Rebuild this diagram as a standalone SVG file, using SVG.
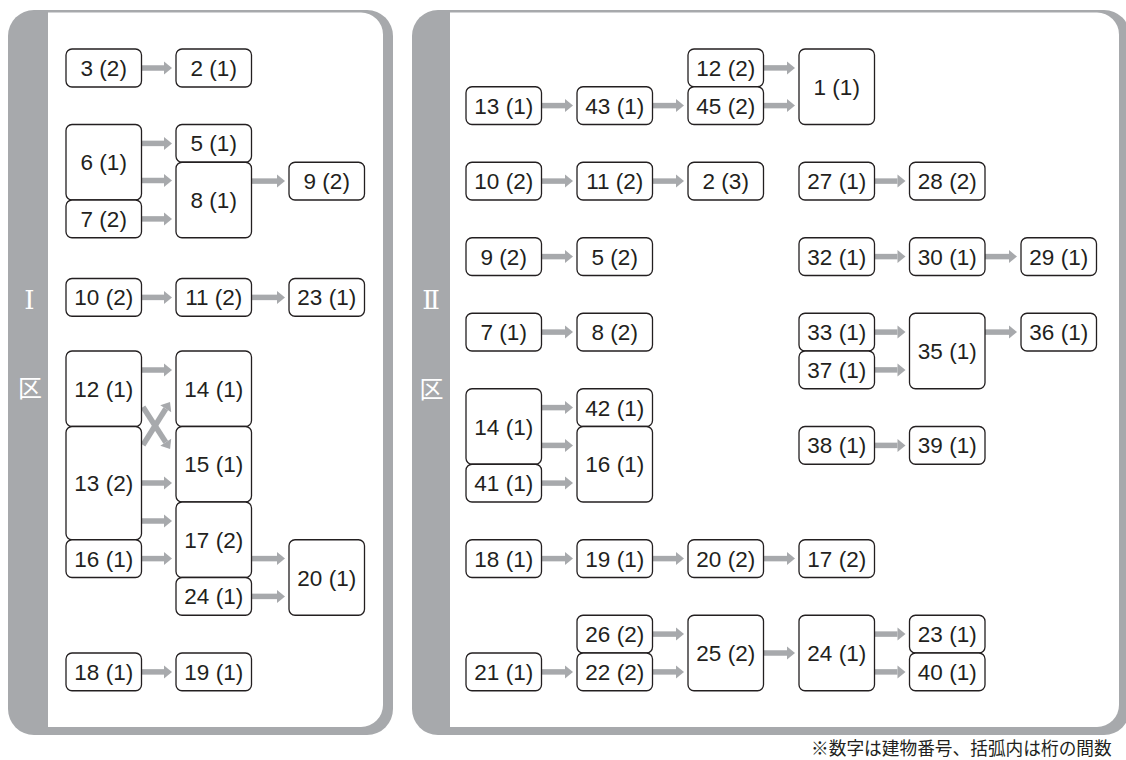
<svg xmlns="http://www.w3.org/2000/svg" width="1126" height="760" viewBox="0 0 1126 760">
<style>
.panel{fill:#a7a9ac}
.inner{fill:#ffffff}
.n{fill:#ffffff;stroke:#231f20;stroke-width:1.3}
.t{font-family:"Liberation Sans",Arial,sans-serif;font-size:22.5px;fill:#231f20;text-anchor:middle}
.side{font-family:"DejaVu Serif","Noto Sans CJK JP",serif;font-size:26px;fill:#ffffff;text-anchor:middle}
.ku{font-family:"Noto Sans CJK JP",sans-serif;font-size:24px;fill:#ffffff;text-anchor:middle}
.a{stroke:#a7a9ac;stroke-width:5.5;fill:none;marker-end:url(#ah)}
.note{font-family:"Noto Sans CJK JP",sans-serif;font-size:17.7px;fill:#231f20}
</style>
<defs>
<marker id="ah" markerUnits="userSpaceOnUse" markerWidth="9" markerHeight="13" refX="0" refY="6.5" orient="auto" overflow="visible">
<path d="M0,0 L8,6.5 L0,13 Z" fill="#a7a9ac"/>
</marker>
</defs>
<g id="panel-1">
<rect class="panel" x="8" y="10" width="385" height="725" rx="26"/>
<path class="inner" d="M48,12.5 H361 A22,22 0 0 1 383,34.5 V705 A22,22 0 0 1 361,727 H48 Z"/>
<text class="side" x="29.5" y="308.5">Ⅰ</text>
<text class="ku" x="30" y="396.5">区</text>
</g>
<g id="panel-2">
<rect class="panel" x="412" y="10" width="718" height="725" rx="26"/>
<path class="inner" d="M450,12.5 H1097 A22,22 0 0 1 1119,34.5 V705 A22,22 0 0 1 1097,727 H450 Z"/>
<text class="side" x="431" y="308.5">Ⅱ</text>
<text class="ku" x="431.5" y="397.5">区</text>
</g>
<g id="connectors">
<line class="a" x1="141.5" y1="68" x2="164" y2="68"/>
<line class="a" x1="141.5" y1="143.4" x2="164" y2="143.4"/>
<line class="a" x1="141.5" y1="180.5" x2="164" y2="180.5"/>
<line class="a" x1="141.5" y1="218.9" x2="164" y2="218.9"/>
<line class="a" x1="251.5" y1="181.1" x2="277" y2="181.1"/>
<line class="a" x1="141.5" y1="297.4" x2="164" y2="297.4"/>
<line class="a" x1="251.5" y1="297.4" x2="277" y2="297.4"/>
<line class="a" x1="141.5" y1="370" x2="164" y2="370"/>
<line class="a" x1="143" y1="445" x2="165.75" y2="408.8"/>
<line class="a" x1="143" y1="407" x2="165.75" y2="442.2"/>
<line class="a" x1="141.5" y1="483" x2="164" y2="483"/>
<line class="a" x1="141.5" y1="521" x2="164" y2="521"/>
<line class="a" x1="141.5" y1="558.6" x2="164" y2="558.6"/>
<line class="a" x1="251.5" y1="558.6" x2="277" y2="558.6"/>
<line class="a" x1="251.5" y1="596.4" x2="277" y2="596.4"/>
<line class="a" x1="141.5" y1="671.9" x2="164" y2="671.9"/>

<line class="a" x1="541.5" y1="105.6" x2="565" y2="105.6"/>
<line class="a" x1="652.5" y1="105.6" x2="676" y2="105.6"/>
<line class="a" x1="763.5" y1="67.9" x2="787" y2="67.9"/>
<line class="a" x1="763.5" y1="105.6" x2="787" y2="105.6"/>
<line class="a" x1="541.5" y1="181.1" x2="565" y2="181.1"/>
<line class="a" x1="652.5" y1="181.1" x2="676" y2="181.1"/>
<line class="a" x1="874.5" y1="181.1" x2="897.5" y2="181.1"/>
<line class="a" x1="541.5" y1="256.6" x2="565" y2="256.6"/>
<line class="a" x1="874.5" y1="256.6" x2="897.5" y2="256.6"/>
<line class="a" x1="985" y1="256.6" x2="1009" y2="256.6"/>
<line class="a" x1="541.5" y1="332.1" x2="565" y2="332.1"/>
<line class="a" x1="874.5" y1="332.1" x2="897.5" y2="332.1"/>
<line class="a" x1="874.5" y1="369.9" x2="897.5" y2="369.9"/>
<line class="a" x1="985" y1="332.1" x2="1009" y2="332.1"/>
<line class="a" x1="541.5" y1="407.6" x2="565" y2="407.6"/>
<line class="a" x1="541.5" y1="445.4" x2="565" y2="445.4"/>
<line class="a" x1="541.5" y1="483.1" x2="565" y2="483.1"/>
<line class="a" x1="874.5" y1="445.4" x2="897.5" y2="445.4"/>
<line class="a" x1="541.5" y1="558.6" x2="565" y2="558.6"/>
<line class="a" x1="652.5" y1="558.6" x2="676" y2="558.6"/>
<line class="a" x1="763.5" y1="558.6" x2="787" y2="558.6"/>
<line class="a" x1="541.5" y1="671.9" x2="565" y2="671.9"/>
<line class="a" x1="652.5" y1="634.1" x2="676" y2="634.1"/>
<line class="a" x1="652.5" y1="671.9" x2="676" y2="671.9"/>
<line class="a" x1="763.5" y1="653" x2="787" y2="653"/>
<line class="a" x1="874.5" y1="634.1" x2="897.5" y2="634.1"/>
<line class="a" x1="874.5" y1="671.9" x2="897.5" y2="671.9"/>
</g>

<g id="I-3-2"><rect class="n" x="66" y="49" width="75.5" height="38" rx="6"/><text class="t" x="103.75" y="76">3 (2)</text></g>
<g id="I-2-1"><rect class="n" x="176" y="49" width="75.5" height="38" rx="6"/><text class="t" x="213.75" y="76">2 (1)</text></g>
<g id="I-6-1"><rect class="n" x="66" y="124.5" width="75.5" height="75.5" rx="6"/><text class="t" x="103.75" y="170.2">6 (1)</text></g>
<g id="I-7-2"><rect class="n" x="66" y="200" width="75.5" height="37.75" rx="6"/><text class="t" x="103.75" y="226.9">7 (2)</text></g>
<g id="I-5-1"><rect class="n" x="176" y="124.5" width="75.5" height="37.75" rx="6"/><text class="t" x="213.75" y="151.4">5 (1)</text></g>
<g id="I-8-1"><rect class="n" x="176" y="162.25" width="75.5" height="75.5" rx="6"/><text class="t" x="213.75" y="208">8 (1)</text></g>
<g id="I-9-2"><rect class="n" x="289" y="162.25" width="75.5" height="37.75" rx="6"/><text class="t" x="326.75" y="189.1">9 (2)</text></g>
<g id="I-10-2"><rect class="n" x="66" y="278.5" width="75.5" height="37.75" rx="6"/><text class="t" x="103.75" y="305.4">10 (2)</text></g>
<g id="I-11-2"><rect class="n" x="176" y="278.5" width="75.5" height="37.75" rx="6"/><text class="t" x="213.75" y="305.4">11 (2)</text></g>
<g id="I-23-1"><rect class="n" x="289" y="278.5" width="75.5" height="37.75" rx="6"/><text class="t" x="326.75" y="305.4">23 (1)</text></g>
<g id="I-12-1"><rect class="n" x="66" y="351" width="75.5" height="75.5" rx="6"/><text class="t" x="103.75" y="396.7">12 (1)</text></g>
<g id="I-13-2"><rect class="n" x="66" y="426.5" width="75.5" height="113.25" rx="6"/><text class="t" x="103.75" y="491.1">13 (2)</text></g>
<g id="I-16-1"><rect class="n" x="66" y="539.75" width="75.5" height="37.75" rx="6"/><text class="t" x="103.75" y="566.6">16 (1)</text></g>
<g id="I-14-1"><rect class="n" x="176" y="351" width="75.5" height="75.5" rx="6"/><text class="t" x="213.75" y="396.7">14 (1)</text></g>
<g id="I-15-1"><rect class="n" x="176" y="426.5" width="75.5" height="75.5" rx="6"/><text class="t" x="213.75" y="472.2">15 (1)</text></g>
<g id="I-17-2"><rect class="n" x="176" y="502" width="75.5" height="75.5" rx="6"/><text class="t" x="213.75" y="547.7">17 (2)</text></g>
<g id="I-24-1"><rect class="n" x="176" y="577.5" width="75.5" height="37.75" rx="6"/><text class="t" x="213.75" y="604.4">24 (1)</text></g>
<g id="I-20-1"><rect class="n" x="289" y="539.75" width="75.5" height="75.5" rx="6"/><text class="t" x="326.75" y="585.5">20 (1)</text></g>
<g id="I-18-1"><rect class="n" x="66" y="653" width="75.5" height="37.75" rx="6"/><text class="t" x="103.75" y="679.9">18 (1)</text></g>
<g id="I-19-1"><rect class="n" x="176" y="653" width="75.5" height="37.75" rx="6"/><text class="t" x="213.75" y="679.9">19 (1)</text></g>

<g id="II-12-2"><rect class="n" x="688" y="49" width="75.5" height="37.75" rx="6"/><text class="t" x="725.75" y="75.9">12 (2)</text></g>
<g id="II-45-2"><rect class="n" x="688" y="86.75" width="75.5" height="37.75" rx="6"/><text class="t" x="725.75" y="113.6">45 (2)</text></g>
<g id="II-13-1"><rect class="n" x="466" y="86.75" width="75.5" height="37.75" rx="6"/><text class="t" x="503.75" y="113.6">13 (1)</text></g>
<g id="II-43-1"><rect class="n" x="577" y="86.75" width="75.5" height="37.75" rx="6"/><text class="t" x="614.75" y="113.6">43 (1)</text></g>
<g id="II-1-1"><rect class="n" x="799" y="49" width="75.5" height="75.5" rx="6"/><text class="t" x="836.75" y="94.75">1 (1)</text></g>
<g id="II-10-2"><rect class="n" x="466" y="162.25" width="75.5" height="37.75" rx="6"/><text class="t" x="503.75" y="189.1">10 (2)</text></g>
<g id="II-11-2"><rect class="n" x="577" y="162.25" width="75.5" height="37.75" rx="6"/><text class="t" x="614.75" y="189.1">11 (2)</text></g>
<g id="II-2-3"><rect class="n" x="688" y="162.25" width="75.5" height="37.75" rx="6"/><text class="t" x="725.75" y="189.1">2 (3)</text></g>
<g id="II-27-1"><rect class="n" x="799" y="162.25" width="75.5" height="37.75" rx="6"/><text class="t" x="836.75" y="189.1">27 (1)</text></g>
<g id="II-28-2"><rect class="n" x="909.5" y="162.25" width="75.5" height="37.75" rx="6"/><text class="t" x="947.25" y="189.1">28 (2)</text></g>
<g id="II-9-2"><rect class="n" x="466" y="237.75" width="75.5" height="37.75" rx="6"/><text class="t" x="503.75" y="264.6">9 (2)</text></g>
<g id="II-5-2"><rect class="n" x="577" y="237.75" width="75.5" height="37.75" rx="6"/><text class="t" x="614.75" y="264.6">5 (2)</text></g>
<g id="II-32-1"><rect class="n" x="799" y="237.75" width="75.5" height="37.75" rx="6"/><text class="t" x="836.75" y="264.6">32 (1)</text></g>
<g id="II-30-1"><rect class="n" x="909.5" y="237.75" width="75.5" height="37.75" rx="6"/><text class="t" x="947.25" y="264.6">30 (1)</text></g>
<g id="II-29-1"><rect class="n" x="1021" y="237.75" width="75.5" height="37.75" rx="6"/><text class="t" x="1058.75" y="264.6">29 (1)</text></g>
<g id="II-7-1"><rect class="n" x="466" y="313.25" width="75.5" height="37.75" rx="6"/><text class="t" x="503.75" y="340.1">7 (1)</text></g>
<g id="II-8-2"><rect class="n" x="577" y="313.25" width="75.5" height="37.75" rx="6"/><text class="t" x="614.75" y="340.1">8 (2)</text></g>
<g id="II-33-1"><rect class="n" x="799" y="313.25" width="75.5" height="37.75" rx="6"/><text class="t" x="836.75" y="340.1">33 (1)</text></g>
<g id="II-37-1"><rect class="n" x="799" y="351" width="75.5" height="37.75" rx="6"/><text class="t" x="836.75" y="377.9">37 (1)</text></g>
<g id="II-35-1"><rect class="n" x="909.5" y="313.25" width="75.5" height="75.5" rx="6"/><text class="t" x="947.25" y="359">35 (1)</text></g>
<g id="II-36-1"><rect class="n" x="1021" y="313.25" width="75.5" height="37.75" rx="6"/><text class="t" x="1058.75" y="340.1">36 (1)</text></g>
<g id="II-14-1"><rect class="n" x="466" y="388.75" width="75.5" height="75.5" rx="6"/><text class="t" x="503.75" y="434.5">14 (1)</text></g>
<g id="II-41-1"><rect class="n" x="466" y="464.25" width="75.5" height="37.75" rx="6"/><text class="t" x="503.75" y="491.1">41 (1)</text></g>
<g id="II-42-1"><rect class="n" x="577" y="388.75" width="75.5" height="37.75" rx="6"/><text class="t" x="614.75" y="415.6">42 (1)</text></g>
<g id="II-16-1"><rect class="n" x="577" y="426.5" width="75.5" height="75.5" rx="6"/><text class="t" x="614.75" y="472.2">16 (1)</text></g>
<g id="II-38-1"><rect class="n" x="799" y="426.5" width="75.5" height="37.75" rx="6"/><text class="t" x="836.75" y="453.4">38 (1)</text></g>
<g id="II-39-1"><rect class="n" x="909.5" y="426.5" width="75.5" height="37.75" rx="6"/><text class="t" x="947.25" y="453.4">39 (1)</text></g>
<g id="II-18-1"><rect class="n" x="466" y="539.75" width="75.5" height="37.75" rx="6"/><text class="t" x="503.75" y="566.6">18 (1)</text></g>
<g id="II-19-1"><rect class="n" x="577" y="539.75" width="75.5" height="37.75" rx="6"/><text class="t" x="614.75" y="566.6">19 (1)</text></g>
<g id="II-20-2"><rect class="n" x="688" y="539.75" width="75.5" height="37.75" rx="6"/><text class="t" x="725.75" y="566.6">20 (2)</text></g>
<g id="II-17-2"><rect class="n" x="799" y="539.75" width="75.5" height="37.75" rx="6"/><text class="t" x="836.75" y="566.6">17 (2)</text></g>
<g id="II-26-2"><rect class="n" x="577" y="615.25" width="75.5" height="37.75" rx="6"/><text class="t" x="614.75" y="642.1">26 (2)</text></g>
<g id="II-22-2"><rect class="n" x="577" y="653" width="75.5" height="37.75" rx="6"/><text class="t" x="614.75" y="679.9">22 (2)</text></g>
<g id="II-21-1"><rect class="n" x="466" y="653" width="75.5" height="37.75" rx="6"/><text class="t" x="503.75" y="679.9">21 (1)</text></g>
<g id="II-25-2"><rect class="n" x="688" y="615.25" width="75.5" height="75.5" rx="6"/><text class="t" x="725.75" y="661">25 (2)</text></g>
<g id="II-24-1"><rect class="n" x="799" y="615.25" width="75.5" height="75.5" rx="6"/><text class="t" x="836.75" y="661">24 (1)</text></g>
<g id="II-23-1"><rect class="n" x="909.5" y="615.25" width="75.5" height="37.75" rx="6"/><text class="t" x="947.25" y="642.1">23 (1)</text></g>
<g id="II-40-1"><rect class="n" x="909.5" y="653" width="75.5" height="37.75" rx="6"/><text class="t" x="947.25" y="679.9">40 (1)</text></g>

<text class="note" x="811" y="754.5">※数字は建物番号、括弧内は桁の間数</text>
</svg>
